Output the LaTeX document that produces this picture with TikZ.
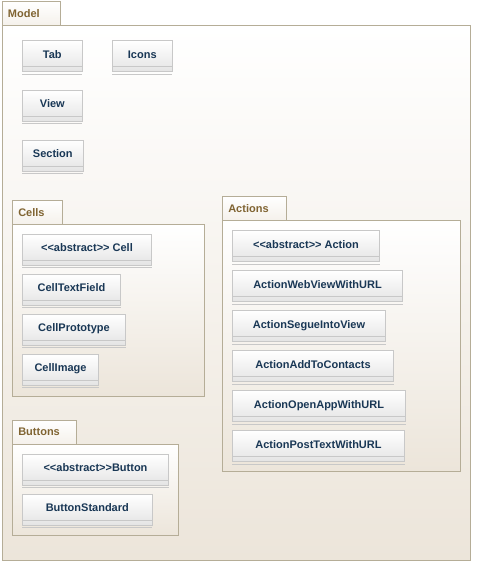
\documentclass[tikz,border=0pt]{standalone}
\usepackage{fontspec}
\setmainfont{Liberation Sans}
\usetikzlibrary{positioning}
\definecolor{pkgedge}{RGB}{181,173,151}
\definecolor{pkgbot}{RGB}{236,229,218}
\definecolor{pkgtext}{RGB}{128,100,50}
\definecolor{clsedge}{RGB}{200,200,200}
\definecolor{clsbot}{RGB}{228,228,228}
\definecolor{clstext}{RGB}{25,55,85}
\newcommand{\stereo}[1]{<\kern0pt<#1>\kern0pt>}

\begin{document}
\begin{tikzpicture}[x=1pt,y=-1pt,
	pkg/.style={draw=pkgedge,line width=1pt,top color=white,bottom color=pkgbot,anchor=north west,inner sep=0pt,outer sep=0pt},
	pkgtab/.style={pkg,bottom color=pkgbot!55,font=\fontsize{11}{13}\selectfont\bfseries,text=pkgtext,align=left,inner xsep=6pt},
	cls/.style={draw=clsedge,line width=1pt,top color=white,bottom color=clsbot,anchor=north west,inner sep=0pt,outer sep=0pt,
		minimum height=31pt,text height=9pt,text depth=5pt,font=\fontsize{11}{13}\selectfont\bfseries,text=clstext,
		path picture={\draw[clsedge,line width=1pt] ([yshift=5pt]path picture bounding box.south west) -- ([yshift=5pt]path picture bounding box.south east);},
		append after command={([yshift=-2.6pt]\tikzlastnode.south west) edge[draw=clsedge,line width=1pt] ([yshift=-2.6pt]\tikzlastnode.south east)}},
	stack/.style={below=9pt of #1.south west,anchor=north west}
]
	\useasboundingbox (0,0) rectangle (490,580);

	% Model
	\node[pkg,minimum width=468pt,minimum height=534pt] (model) at (2,26) {};
	\node[pkgtab,text width=46pt,minimum height=24pt] (modeltab) at (2,2) {Model};
	\node[cls,minimum width=60pt] (tab) at (22.3,40.7) {Tab};
	\node[cls,minimum width=60pt] (icons) at (112.3,40.7) {Icons};
	\node[cls,minimum width=60pt,below=18.7pt of tab.south west,anchor=north west] (view) {View};
	\node[cls,minimum width=61pt,below=18.7pt of view.south west,anchor=north west] (section) {Section};

	% Cells
	\node[pkg,minimum width=192pt,minimum height=171.7pt] (cells) at (12.3,224.3) {};
	\node[pkgtab,text width=38.4pt,minimum height=24.3pt] (cellstab) at (12.3,200) {Cells};
	\node[cls,minimum width=129.4pt] (cell) at (22.3,234.3) {\stereo{abstract} Cell};
	\node[cls,minimum width=98.4pt,stack=cell] (celltextfield) {CellTextField};
	\node[cls,minimum width=103.4pt,stack=celltextfield] (cellprototype) {CellPrototype};
	\node[cls,minimum width=76.4pt,stack=cellprototype] (cellimage) {CellImage};

	% Actions
	\node[pkg,minimum width=238.4pt,minimum height=251pt] (actions) at (222.3,220.7) {};
	\node[pkgtab,text width=52.4pt,minimum height=24.7pt] (actionstab) at (222.3,196) {Actions};
	\node[cls,minimum width=147.4pt] (action) at (232.3,230.7) {\stereo{abstract} Action};
	\node[cls,minimum width=170.4pt,stack=action] (webview) {ActionWebViewWithURL};
	\node[cls,minimum width=153.4pt,stack=webview] (segue) {ActionSegueIntoView};
	\node[cls,minimum width=161.4pt,stack=segue] (contacts) {ActionAddToContacts};
	\node[cls,minimum width=173.4pt,stack=contacts] (openapp) {ActionOpenAppWithURL};
	\node[cls,minimum width=172.4pt,stack=openapp] (posttext) {ActionPostTextWithURL};

	% Buttons
	\node[pkg,minimum width=166.4pt,minimum height=91.4pt] (buttons) at (12.3,444.3) {};
	\node[pkgtab,text width=52.4pt,minimum height=24.3pt] (buttonstab) at (12.3,420) {Buttons};
	\node[cls,minimum width=146.4pt] (button) at (22.3,454.3) {\stereo{abstract}Button};
	\node[cls,minimum width=130pt,stack=button] (buttonstandard) {ButtonStandard};
\end{tikzpicture}
\end{document}
